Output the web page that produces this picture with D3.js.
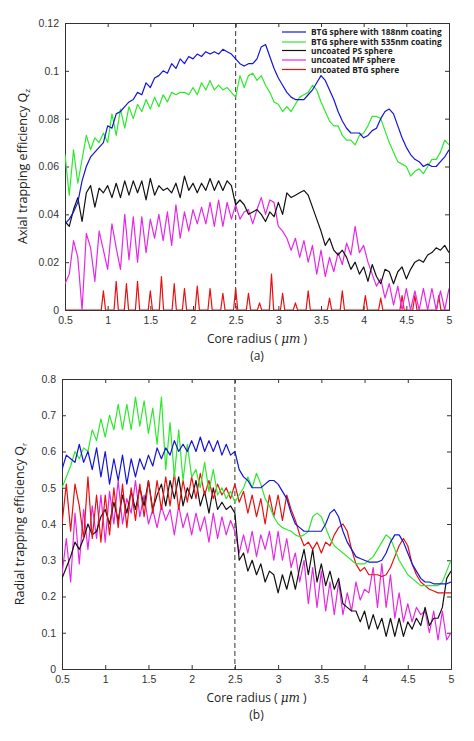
<!DOCTYPE html>
<html><head><meta charset="utf-8">
<script src="https://cdn.jsdelivr.net/npm/d3@7"></script>
<style>body{margin:0;background:#fff}svg{font-family:"Open Sans",Arial,sans-serif}</style>
</head><body><div id="chart"></div>
<script>
// radius samples 0.5..5 step 0.05
const radius = d3.range(91).map(i => +(0.5 + i * 0.05).toFixed(2));
const seriesNames = ["BTG sphere with 188nm coating", "BTG sphere with 535nm coating", "uncoated PS sphere", "uncoated MF sphere", "uncoated BTG sphere"];
const colors = ["#1414d8", "#2ee82e", "#111111", "#e628e6", "#e81010"];

const qzBlue = [0.036,0.038,0.041,0.045,0.054,0.06,0.064,0.066,0.068,0.07,0.077,0.076,0.082,0.083,0.085,0.087,0.088,0.091,0.09,0.095,0.093,0.097,0.098,0.1,0.099,0.103,0.101,0.105,0.103,0.106,0.105,0.107,0.106,0.108,0.107,0.108,0.107,0.109,0.108,0.107,0.105,0.103,0.102,0.103,0.103,0.105,0.11,0.111,0.106,0.101,0.097,0.094,0.091,0.089,0.088,0.088,0.088,0.09,0.092,0.095,0.098,0.096,0.092,0.088,0.083,0.079,0.076,0.074,0.074,0.074,0.072,0.073,0.075,0.076,0.08,0.083,0.084,0.082,0.077,0.072,0.068,0.065,0.063,0.062,0.06,0.061,0.06,0.06,0.062,0.064,0.067];
const qzGreen = [0.065,0.048,0.067,0.053,0.063,0.073,0.067,0.072,0.07,0.074,0.07,0.082,0.073,0.084,0.076,0.085,0.08,0.086,0.083,0.088,0.084,0.089,0.085,0.09,0.087,0.091,0.09,0.091,0.091,0.09,0.093,0.09,0.095,0.092,0.096,0.092,0.094,0.092,0.093,0.091,0.089,0.098,0.093,0.098,0.099,0.096,0.098,0.094,0.091,0.087,0.086,0.083,0.085,0.083,0.086,0.089,0.09,0.091,0.094,0.092,0.087,0.083,0.079,0.077,0.077,0.073,0.071,0.071,0.069,0.073,0.074,0.077,0.081,0.081,0.08,0.075,0.07,0.066,0.062,0.061,0.06,0.056,0.058,0.059,0.057,0.06,0.063,0.063,0.066,0.071,0.069];
const qzBlack = [0.037,0.035,0.042,0.047,0.037,0.049,0.052,0.043,0.051,0.049,0.052,0.047,0.053,0.047,0.054,0.048,0.054,0.049,0.054,0.046,0.055,0.048,0.052,0.05,0.051,0.049,0.053,0.047,0.056,0.05,0.053,0.049,0.053,0.05,0.055,0.05,0.054,0.05,0.054,0.052,0.044,0.046,0.044,0.04,0.041,0.042,0.04,0.037,0.041,0.039,0.045,0.04,0.049,0.047,0.048,0.049,0.05,0.048,0.043,0.038,0.033,0.027,0.03,0.025,0.023,0.025,0.022,0.017,0.02,0.015,0.018,0.012,0.019,0.014,0.011,0.017,0.016,0.011,0.016,0.018,0.013,0.017,0.02,0.021,0.02,0.023,0.024,0.026,0.025,0.027,0.024];
const qzMagenta = [0.011,0.015,0.029,0.022,0,0.032,0.026,0.012,0.033,0.025,0.017,0.036,0.026,0.017,0.04,0.021,0.039,0.02,0.039,0.024,0.038,0.03,0.04,0.029,0.041,0.027,0.044,0.03,0.041,0.033,0.042,0.036,0.043,0.036,0.045,0.035,0.046,0.035,0.045,0.038,0.044,0.038,0.041,0.042,0.036,0.042,0.047,0.04,0.046,0.045,0.035,0.033,0.03,0.025,0.03,0.022,0.029,0.02,0.027,0.015,0.025,0.014,0.022,0.016,0.024,0.019,0.028,0.023,0.035,0.024,0.027,0.02,0.015,0.01,0.013,0.005,0.011,0.002,0.01,0,0.009,0,0.008,0,0.009,0,0.009,0,0.008,0,0.009];
// red in panel (a) is a set of narrow spikes from zero
const qzRedSpikeX = [0.95,1.1,1.22,1.35,1.5,1.63,1.78,1.9,2.05,2.2,2.35,2.5,2.65,2.78,2.92,3.05,3.2,3.35,3.6,3.75,4.02,4.2,4.45,4.6,4.88];
const qzRedSpikeY = [0.008,0.012,0.011,0.012,0.008,0.014,0.011,0.009,0.01,0.009,0.007,0.009,0.007,0.003,0.015,0.007,0.003,0.008,0.005,0.008,0.006,0.005,0.006,0.006,0.006];

const qrBlue = [0.55,0.59,0.58,0.57,0.62,0.57,0.6,0.55,0.61,0.53,0.6,0.51,0.58,0.52,0.59,0.51,0.58,0.53,0.58,0.55,0.59,0.56,0.61,0.58,0.61,0.59,0.63,0.6,0.62,0.6,0.63,0.6,0.64,0.6,0.63,0.6,0.63,0.59,0.62,0.59,0.6,0.55,0.53,0.52,0.5,0.5,0.5,0.51,0.52,0.52,0.51,0.49,0.47,0.43,0.4,0.39,0.38,0.38,0.38,0.38,0.38,0.4,0.43,0.44,0.42,0.38,0.35,0.33,0.31,0.305,0.3,0.295,0.295,0.295,0.3,0.32,0.35,0.37,0.37,0.35,0.32,0.29,0.27,0.25,0.24,0.24,0.235,0.235,0.235,0.235,0.24];
const qrGreen = [0.5,0.53,0.56,0.6,0.58,0.61,0.6,0.66,0.63,0.69,0.64,0.7,0.66,0.73,0.66,0.73,0.66,0.75,0.67,0.74,0.65,0.72,0.62,0.75,0.55,0.68,0.53,0.66,0.52,0.62,0.53,0.55,0.5,0.57,0.49,0.55,0.48,0.5,0.47,0.49,0.46,0.48,0.5,0.53,0.5,0.54,0.51,0.47,0.45,0.42,0.4,0.39,0.385,0.38,0.37,0.365,0.37,0.38,0.42,0.43,0.42,0.39,0.36,0.34,0.33,0.32,0.31,0.3,0.29,0.29,0.29,0.3,0.31,0.33,0.35,0.37,0.36,0.33,0.3,0.28,0.26,0.25,0.24,0.23,0.23,0.23,0.23,0.23,0.24,0.27,0.3];
const qrBlack = [0.25,0.28,0.31,0.35,0.33,0.36,0.4,0.37,0.38,0.42,0.44,0.4,0.46,0.41,0.48,0.43,0.49,0.44,0.5,0.45,0.52,0.44,0.48,0.51,0.45,0.52,0.47,0.53,0.45,0.5,0.47,0.52,0.45,0.49,0.43,0.5,0.44,0.46,0.44,0.45,0.43,0.3,0.32,0.27,0.3,0.26,0.29,0.24,0.27,0.26,0.21,0.26,0.22,0.27,0.22,0.28,0.33,0.26,0.33,0.24,0.29,0.23,0.27,0.22,0.25,0.18,0.17,0.16,0.16,0.13,0.16,0.11,0.15,0.11,0.14,0.09,0.14,0.09,0.14,0.09,0.13,0.11,0.14,0.12,0.17,0.12,0.14,0.14,0.17,0.25,0.27];
const qrMagenta = [0.26,0.36,0.24,0.43,0.29,0.44,0.33,0.45,0.36,0.48,0.35,0.49,0.4,0.52,0.4,0.47,0.43,0.52,0.42,0.48,0.4,0.44,0.39,0.45,0.41,0.44,0.37,0.45,0.39,0.43,0.37,0.43,0.38,0.42,0.35,0.43,0.36,0.42,0.37,0.41,0.38,0.32,0.37,0.32,0.38,0.31,0.37,0.33,0.38,0.3,0.38,0.3,0.36,0.28,0.32,0.24,0.3,0.18,0.28,0.17,0.27,0.16,0.24,0.15,0.24,0.15,0.21,0.16,0.24,0.19,0.22,0.21,0.28,0.17,0.29,0.17,0.26,0.14,0.21,0.13,0.18,0.13,0.17,0.15,0.16,0.1,0.16,0.08,0.16,0.08,0.1];
const qrRed = [0.4,0.51,0.38,0.51,0.45,0.36,0.53,0.36,0.48,0.35,0.48,0.37,0.5,0.39,0.51,0.39,0.5,0.41,0.51,0.42,0.52,0.43,0.52,0.44,0.53,0.45,0.54,0.44,0.52,0.46,0.53,0.47,0.54,0.48,0.52,0.47,0.51,0.48,0.5,0.47,0.51,0.46,0.49,0.43,0.48,0.42,0.47,0.4,0.48,0.42,0.48,0.41,0.48,0.44,0.41,0.37,0.34,0.35,0.33,0.35,0.32,0.35,0.34,0.37,0.39,0.4,0.38,0.33,0.29,0.27,0.28,0.26,0.26,0.26,0.255,0.26,0.28,0.31,0.34,0.36,0.34,0.29,0.26,0.24,0.23,0.22,0.215,0.21,0.21,0.21,0.21];

const xTicks = [0.5,1,1.5,2,2.5,3,3.5,4,4.5,5];
const qzTicks = [0,0.02,0.04,0.06,0.08,0.1,0.12];
const qrTicks = [0,0.1,0.2,0.3,0.4,0.5,0.6,0.7,0.8];

const svg = d3.select("#chart").append("svg").attr("width", 474).attr("height", 741);

function toPts(ys) { return ys.map((y, i) => [radius[i], y]); }
function spikes(xs, ys) {
  const p = [[0.5, 0]];
  xs.forEach((x, i) => { p.push([x - 0.025, 0], [x, ys[i]], [x + 0.025, 0]); });
  p.push([5, 0]);
  return p;
}

function panel(opt) {
  const g = svg.append("g");
  const x = d3.scaleLinear().domain([0.5, 5]).range([opt.left, opt.right]);
  const y = d3.scaleLinear().domain(opt.ydom).range([opt.bottom, opt.top]);
  const h = opt.bottom - opt.top, w = opt.right - opt.left;

  const clipId = "clip" + opt.id;
  svg.append("clipPath").attr("id", clipId).append("rect")
    .attr("x", opt.left).attr("y", opt.top).attr("width", w).attr("height", h);

  const fmt = d => String(d);
  g.append("g").attr("transform", `translate(0,${opt.bottom})`)
    .call(d3.axisBottom(x).tickValues(xTicks).tickSize(-4).tickPadding(7).tickFormat(fmt));
  g.append("g").attr("transform", `translate(0,${opt.top})`)
    .call(d3.axisTop(x).tickValues(xTicks).tickSize(-4).tickFormat(""));
  g.append("g").attr("transform", `translate(${opt.left},0)`)
    .call(d3.axisLeft(y).tickValues(opt.yticks).tickSize(-4).tickPadding(6).tickFormat(fmt));
  g.append("g").attr("transform", `translate(${opt.right},0)`)
    .call(d3.axisRight(y).tickValues(opt.yticks).tickSize(-4).tickFormat(""));
  g.selectAll(".domain").attr("stroke", "#333");
  g.selectAll(".tick line").attr("stroke", "#333");
  g.selectAll(".tick text").attr("font-size", 10.5).attr("fill", "#333");

  g.append("line").attr("x1", x(2.5)).attr("x2", x(2.5)).attr("y1", opt.top).attr("y2", opt.bottom)
    .attr("stroke", "#333").attr("stroke-dasharray", "5,3").attr("stroke-width", 1);

  const line = d3.line().x(d => x(d[0])).y(d => y(d[1]));
  const lg = g.append("g").attr("clip-path", `url(#${clipId})`);
  opt.series.forEach(s => {
    lg.append("path").attr("d", line(s.pts)).attr("fill", "none")
      .attr("stroke", colors[s.c]).attr("stroke-width", 1.2).attr("stroke-linejoin", "round");
  });

  g.append("text").attr("x", (opt.left + opt.right) / 2).attr("y", opt.bottom + 33)
    .attr("text-anchor", "middle").attr("font-size", 12).attr("fill", "#222")
    .html('Core radius ( <tspan font-style="italic" font-family="DejaVu Serif">μm</tspan> )');
  g.append("text").attr("x", (opt.left + opt.right) / 2).attr("y", opt.bottom + 50)
    .attr("text-anchor", "middle").attr("font-size", 12).attr("fill", "#222").text(opt.sub);
  g.append("text").attr("transform", `translate(${opt.left - 38},${(opt.top + opt.bottom) / 2}) rotate(-90)`)
    .attr("text-anchor", "middle").attr("font-size", 12.5).attr("fill", "#222")
    .html(opt.ylabel);
  return g;
}

panel({
  id: "a", left: 65, right: 449, top: 23, bottom: 310, ydom: [0, 0.12], yticks: qzTicks, sub: "(a)",
  ylabel: 'Axial trapping efficiency Q<tspan font-size="8" dy="3">z</tspan>',
  series: [
    { pts: spikes(qzRedSpikeX, qzRedSpikeY), c: 4 },
    { pts: toPts(qzMagenta), c: 3 },
    { pts: toPts(qzBlack), c: 2 },
    { pts: toPts(qzGreen), c: 1 },
    { pts: toPts(qzBlue), c: 0 }
  ]
});

panel({
  id: "b", left: 62, right: 451, top: 379, bottom: 669, ydom: [0, 0.8], yticks: qrTicks, sub: "(b)",
  ylabel: 'Radial trapping efficiency Q<tspan font-size="8" dy="3">r</tspan>',
  series: [
    { pts: toPts(qrMagenta), c: 3 },
    { pts: toPts(qrBlack), c: 2 },
    { pts: toPts(qrRed), c: 4 },
    { pts: toPts(qrGreen), c: 1 },
    { pts: toPts(qrBlue), c: 0 }
  ]
});

// legend for panel (a)
const leg = svg.append("g").attr("transform", "translate(282,32)");
seriesNames.forEach((n, i) => {
  const yy = [0, 10, 18.5, 28, 37.5][i];
  leg.append("line").attr("x1", 0).attr("x2", 24).attr("y1", yy).attr("y2", yy)
    .attr("stroke", colors[i]).attr("stroke-width", 1.2);
  leg.append("text").attr("x", 29).attr("y", yy + 3).attr("font-size", 8.3).attr("font-weight", "bold")
    .attr("fill", "#222").text(n);
});
</script>
</body></html>
